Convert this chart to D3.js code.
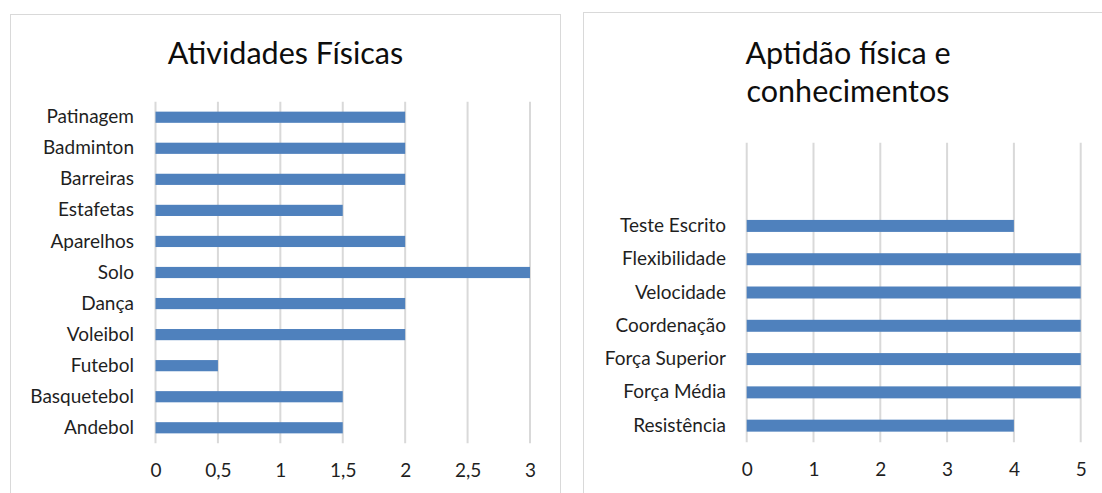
<!DOCTYPE html>
<html>
<head>
<meta charset="utf-8">
<script src="https://cdn.jsdelivr.net/npm/d3@7"></script>
<style>
  body { margin: 0; background: #fff; }
  text { font-family: Lato, "Open Sans", sans-serif; }
</style>
</head>
<body>
<div id="chart"></div>
<script>
// ---- data (top to bottom, as shown) ----
const atividades = ["Patinagem", "Badminton", "Barreiras", "Estafetas", "Aparelhos", "Solo",
                    "Dança", "Voleibol", "Futebol", "Basquetebol", "Andebol"];
const atividadesValores = [2, 2, 2, 1.5, 2, 3, 2, 2, 0.5, 1.5, 1.5];
const atividadesTicks = [0, 0.5, 1, 1.5, 2, 2.5, 3];

const aptidao = ["", "", "Teste Escrito", "Flexibilidade", "Velocidade", "Coordenação",
                 "Força Superior", "Força Média", "Resistência"];
const aptidaoValores = [null, null, 4, 5, 5, 5, 5, 5, 4];
const aptidaoTicks = [0, 1, 2, 3, 4, 5];

const barColor = "#4f81bd";
const gridColor = "#d9d9d9";

const ptBR = d3.formatLocale({decimal: ",", thousands: ".", grouping: [3], currency: ["", ""]});
const fmt = ptBR.format("~g");

const svg = d3.select("#chart").append("svg")
    .attr("width", 1102)
    .attr("height", 493);

// panel frames
svg.append("rect")
    .attr("x", 10.5).attr("y", 14.5)
    .attr("width", 550).attr("height", 500)
    .attr("fill", "#fff").attr("stroke", gridColor);
svg.append("rect")
    .attr("x", 583.5).attr("y", 12.5)
    .attr("width", 540).attr("height", 500)
    .attr("fill", "#fff").attr("stroke", gridColor);

function drawBars(opt) {
    const g = svg.append("g");

    const x = d3.scaleLinear().domain(opt.domain).range(opt.xRange);
    const y = d3.scaleBand()
        .domain(d3.range(opt.labels.length))
        .range(opt.yRange)
        .paddingInner(0.64)
        .paddingOuter(0.32);

    // gridlines
    g.selectAll("line.grid")
        .data(opt.ticks)
        .enter().append("line")
        .attr("x1", d => x(d)).attr("x2", d => x(d))
        .attr("y1", opt.yRange[0]).attr("y2", opt.yRange[1])
        .attr("stroke", gridColor)
        .attr("stroke-width", 2);

    // bars
    const rows = opt.values.map((v, i) => ({i: i, v: v})).filter(d => d.v != null);
    g.selectAll("rect.bar")
        .data(rows)
        .enter().append("rect")
        .attr("x", x(0))
        .attr("y", d => y(d.i))
        .attr("width", d => x(d.v) - x(0))
        .attr("height", y.bandwidth())
        .attr("fill", barColor);

    // category axis
    const yAxis = d3.axisLeft(y)
        .tickSize(0)
        .tickPadding(0)
        .tickFormat(i => opt.labels[i]);
    const ya = g.append("g")
        .attr("transform", `translate(${opt.labelX},0)`)
        .call(yAxis);
    ya.select(".domain").remove();
    ya.selectAll("text")
        .attr("font-size", opt.fontSize)
        .attr("font-family", "Lato, sans-serif")
        .attr("fill", "#1f1f1f");

    // value axis
    const xAxis = d3.axisBottom(x)
        .tickValues(opt.ticks)
        .tickSize(0)
        .tickPadding(0)
        .tickFormat(fmt);
    const xa = g.append("g")
        .attr("transform", `translate(0,${opt.tickY})`)
        .call(xAxis);
    xa.select(".domain").remove();
    xa.selectAll("text")
        .attr("dy", 0)
        .attr("font-size", opt.fontSize)
        .attr("font-family", "Lato, sans-serif")
        .attr("fill", "#1f1f1f");

    // title
    const t = g.append("text")
        .attr("x", opt.titleX)
        .attr("text-anchor", "middle")
        .attr("font-size", 30.5)
        .attr("fill", "#0d0d0d");
    opt.title.forEach((line, k) => {
        t.append("tspan")
            .attr("x", opt.titleX)
            .attr("y", opt.titleY + k * 38)
            .text(line);
    });
}

drawBars({
    labels: atividades,
    values: atividadesValores,
    ticks: atividadesTicks,
    domain: [0, 3],
    xRange: [155.5, 530],
    yRange: [101.7, 443.3],
    labelX: 134,
    tickY: 477,
    fontSize: 19,
    title: ["Atividades Físicas"],
    titleX: 285.5,
    titleY: 64
});

drawBars({
    labels: aptidao,
    values: aptidaoValores,
    ticks: aptidaoTicks,
    domain: [0, 5],
    xRange: [746.7, 1080.7],
    yRange: [142.7, 442.3],
    labelX: 726,
    tickY: 476,
    fontSize: 19,
    title: ["Aptidão física e", "conhecimentos"],
    titleX: 848,
    titleY: 64
});
</script>
</body>
</html>
